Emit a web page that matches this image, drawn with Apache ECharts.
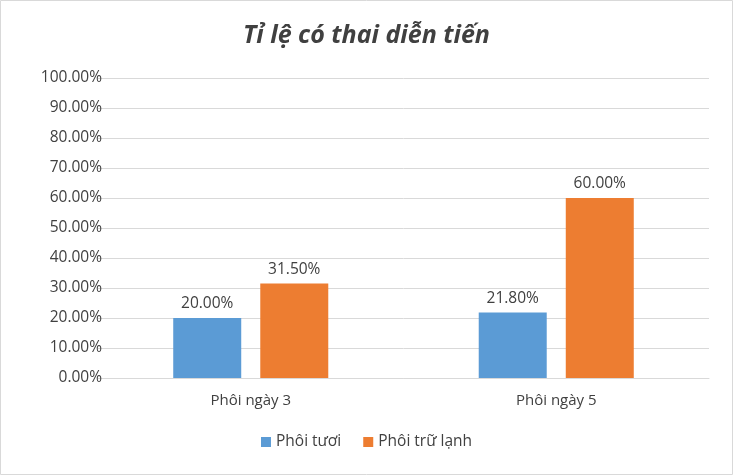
<!DOCTYPE html>
<html><head><meta charset="utf-8">
<script src="https://cdn.jsdelivr.net/npm/echarts@6/dist/echarts.min.js"></script>
<style>html,body{margin:0;padding:0;background:#fff}#c{width:733px;height:475px}</style>
</head><body><div id="c"></div>
<script>
const categories = ["Phôi ngày 3", "Phôi ngày 5"];
const fresh = [20.0, 21.8];
const frozen = [31.5, 60.0];
const seriesNames = ["Phôi tươi", "Phôi trữ lạnh"];
const chart = echarts.init(document.getElementById('c'));
const lbl = {show:true, position:'top', distance:6, color:'#404040', fontSize:15.5, fontFamily:'Open Sans, sans-serif', formatter:p=>p.value.toFixed(2)+'%'};
chart.setOption({
  animation:false,
  graphic:[{type:'rect', shape:{x:0.5, y:0.5, width:732, height:474}, style:{fill:'none', stroke:'#d9d9d9', lineWidth:1}}],
  title:{text:'Tỉ lệ có thai diễn tiến', left:'center', top:18, textStyle:{fontStyle:'italic', fontWeight:'bold', fontSize:25, color:'#404040', fontFamily:'Open Sans, sans-serif'}},
  grid:{left:98, right:24, top:78, bottom:97},
  legend:{bottom:20, itemWidth:10, itemHeight:10, itemGap:22, icon:'rect', textStyle:{color:'#404040', fontSize:15.5, fontFamily:'Open Sans, sans-serif'}},
  xAxis:{type:'category', data:categories, axisTick:{show:false}, axisLine:{lineStyle:{color:'#d9d9d9'}}, axisLabel:{color:'#404040', fontSize:15, margin:15, fontFamily:'Open Sans, sans-serif'}},
  yAxis:{type:'value', min:0, max:100, interval:10, axisLabel:{color:'#404040', fontSize:15.5, margin:-4, fontFamily:'Open Sans, sans-serif', formatter:v=>v.toFixed(2)+'%'}, splitLine:{lineStyle:{color:'#d9d9d9'}}},
  series:[
    {name:seriesNames[0], type:'bar', data:fresh, barWidth:68, barGap:'28%', itemStyle:{color:'#5B9BD5'}, label:lbl},
    {name:seriesNames[1], type:'bar', data:frozen, barWidth:68, itemStyle:{color:'#ED7D31'}, label:lbl}
  ]
});
</script></body></html>
